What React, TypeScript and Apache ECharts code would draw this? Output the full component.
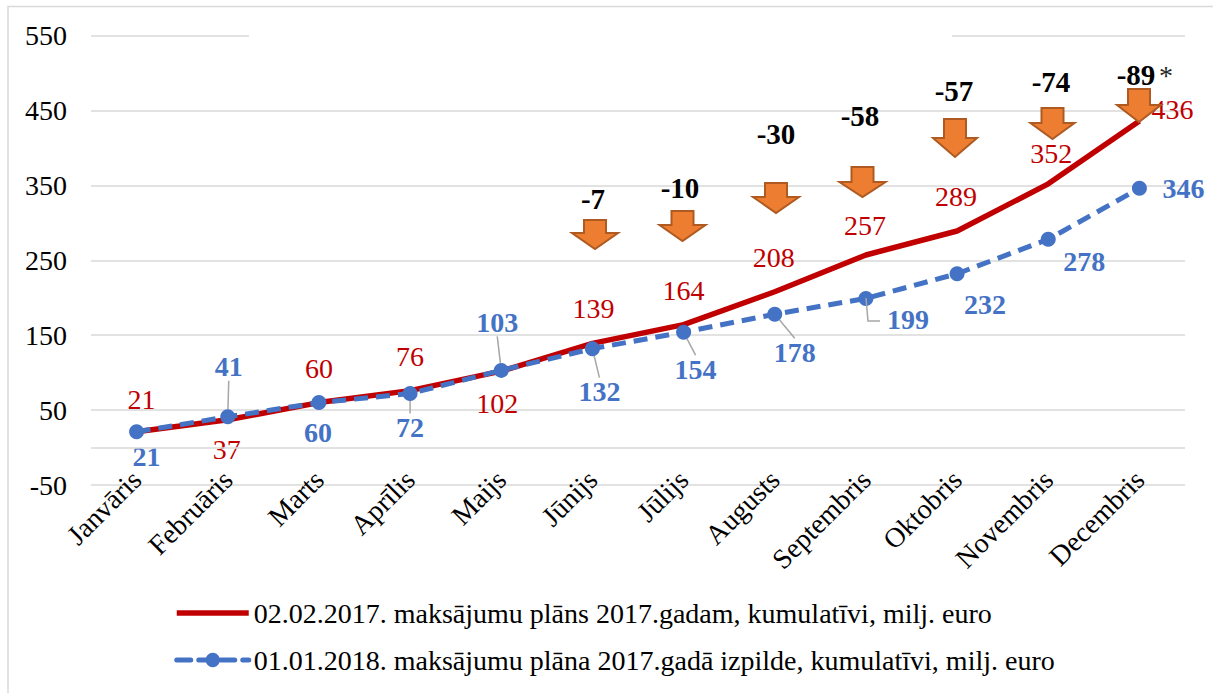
import React, { useEffect, useRef } from "react";
import * as echarts from "echarts";

const categories = ["Janvāris", "Februāris", "Marts", "Aprīlis", "Maijs", "Jūnijs", "Jūlijs", "Augusts", "Septembris", "Oktobris", "Novembris", "Decembris"];
const planValues = [21, 37, 60, 76, 102, 139, 164, 208, 257, 289, 352, 436];
const actualValues = [21, 41, 60, 72, 103, 132, 154, 178, 199, 232, 278, 346];
const yTicks = [-50, 50, 150, 250, 350, 450, 550];
const diffLabels = ["-7", "-10", "-30", "-58", "-57", "-74", "-89"];
const planName = "02.02.2017. maksājumu plāns 2017.gadam, kumulatīvi, milj. euro";
const actualName = "01.01.2018. maksājumu plāna 2017.gadā izpilde, kumulatīvi, milj. euro";

const planOffsets = [[5, -32], [-1, 30], [0, -34], [0, -34], [-4, 32], [1, -35], [0, -34], [-1, -34], [-1, -30], [-1, -35], [3, -30], [33, -11]];
const actualOffsets = [[10, 25], [1, -50], [-1, 30], [0, 34], [-4, -48], [7, 43], [12, 37], [20, 38], [42, 21], [28, 31], [36, 22], [44, 0.5]];
const leaderIdx = [1, 3, 4, 5, 6, 7];
// annotation arrows: centre x, top, shoulder, tip, half width
const arrows = [[595, 220, 233, 249, 23], [682.5, 211, 225, 241, 23], [776, 183, 197, 213, 23], [862.5, 167, 182, 197, 23], [955, 119, 138, 157, 22], [1052.5, 108, 123, 139, 22], [1139, 89, 105, 122, 22]];
const diffPos = [[593, 199], [680, 188], [776, 134], [860, 116], [954, 91], [1051, 82], [1136, 75]];

const FONT = "'Liberation Serif', 'Times New Roman', serif";
const RED = "#C00000";
const BLUE = "#4472C4";
const GRID = "#D9D9D9";

export default function App() {
  const ref = useRef<HTMLDivElement>(null);
  useEffect(() => {
    document.body.style.margin = "0";
    const chart = echarts.init(ref.current!, undefined, { renderer: "svg" });
    const graphics: any[] = [
      { type: "rect", z: 90, shape: { x: 8, y: 6.5, width: 1400, height: 900 }, style: { fill: "none", stroke: GRID, lineWidth: 1.5 } },
      { type: "rect", z: 90, shape: { x: 249, y: 30, width: 703, height: 11 }, style: { fill: "#fff" } },
      { type: "polyline", z: 90, shape: { points: [[866, 298], [868, 321], [880, 321]] }, style: { fill: "none", stroke: "#A6A6A6", lineWidth: 1.5 } },
    ];
    arrows.forEach(([cx, top, sh, tip, hw]) => {
      const stem = 11;
      graphics.push({
        type: "polygon",
        z: 100,
        shape: { points: [[cx - stem, top], [cx + stem, top], [cx + stem, sh], [cx + hw, sh], [cx, tip], [cx - hw, sh], [cx - stem, sh]] },
        style: { fill: "#ED7D31", stroke: "#AE5A21", lineWidth: 2 },
      });
    });
    diffLabels.forEach((t, i) => {
      graphics.push({
        type: "text",
        z: 101,
        style: { x: diffPos[i][0], y: diffPos[i][1], text: t, align: "center", verticalAlign: "middle", font: `bold 29px ${FONT}`, fill: "#000" },
      });
    });
    graphics.push({
      type: "text",
      z: 101,
      style: { x: 1166, y: 75, text: "*", align: "center", verticalAlign: "middle", font: `28px ${FONT}`, fill: "#262626" },
    });

    chart.setOption({
      animation: false,
      backgroundColor: "#fff",
      grid: { left: 91, top: 35.5, width: 1094, height: 449.5, containLabel: false },
      legend: {
        orient: "vertical",
        left: 169,
        top: 593,
        itemWidth: 72,
        itemHeight: 18,
        itemGap: 17,
        selectedMode: false,
        textStyle: { fontFamily: FONT, fontSize: 28, lineHeight: 30, color: "#000" },
        data: [
          { name: planName, itemStyle: { opacity: 0 }, lineStyle: { width: 5.5, color: RED } },
          { name: actualName, lineStyle: { width: 5, color: BLUE, type: [14, 8], cap: "round" } },
        ],
      },
      xAxis: {
        type: "category",
        data: categories,
        boundaryGap: true,
        axisLine: { show: false, onZero: false },
        axisTick: { show: false },
        axisLabel: { rotate: 45, interval: 0, margin: -10, fontFamily: FONT, fontSize: 28, color: "#000" },
      },
      yAxis: {
        type: "value",
        min: -50,
        max: 550,
        axisLine: { show: false },
        axisTick: { show: false, customValues: yTicks },
        axisLabel: { customValues: yTicks, margin: 24, fontFamily: FONT, fontSize: 28, color: "#000" },
        splitLine: { show: true, lineStyle: { color: GRID, width: 1.5 } },
      },
      graphic: graphics,
      series: [
        {
          name: planName,
          type: "line",
          data: planValues,
          z: 3,
          symbol: "circle",
          symbolSize: 1,
          showSymbol: true,
          lineStyle: { color: RED, width: 5.5 },
          itemStyle: { color: RED },
          label: { show: true, position: "inside", fontFamily: FONT, fontSize: 28, color: RED },
          labelLayout: (p: any) => ({ dx: planOffsets[p.dataIndex][0], dy: planOffsets[p.dataIndex][1] }),
          markLine: {
            silent: true,
            symbol: "none",
            label: { show: false },
            lineStyle: { color: GRID, width: 1.5, type: "solid" },
            data: [{ yAxis: 0 }],
          },
        },
        {
          name: actualName,
          type: "line",
          z: 4,
          data: actualValues.map((v, i) => ({
            value: v,
            labelLine: { show: leaderIdx.includes(i), lineStyle: { color: "#A6A6A6", width: 1.5 } },
          })),
          symbol: "circle",
          symbolSize: 15,
          showSymbol: true,
          lineStyle: { color: BLUE, width: 5, type: [14, 8] },
          itemStyle: { color: BLUE },
          label: { show: true, position: "inside", fontFamily: FONT, fontWeight: "bold", fontSize: 28, color: BLUE },
          labelLine: { length2: 0 },
          labelLayout: (p: any) => ({ dx: actualOffsets[p.dataIndex][0], dy: actualOffsets[p.dataIndex][1] }),
        },
      ],
    });
    return () => chart.dispose();
  }, []);
  return <div ref={ref} style={{ width: 1213, height: 693, position: "absolute", left: 0, top: 0 }} />;
}
